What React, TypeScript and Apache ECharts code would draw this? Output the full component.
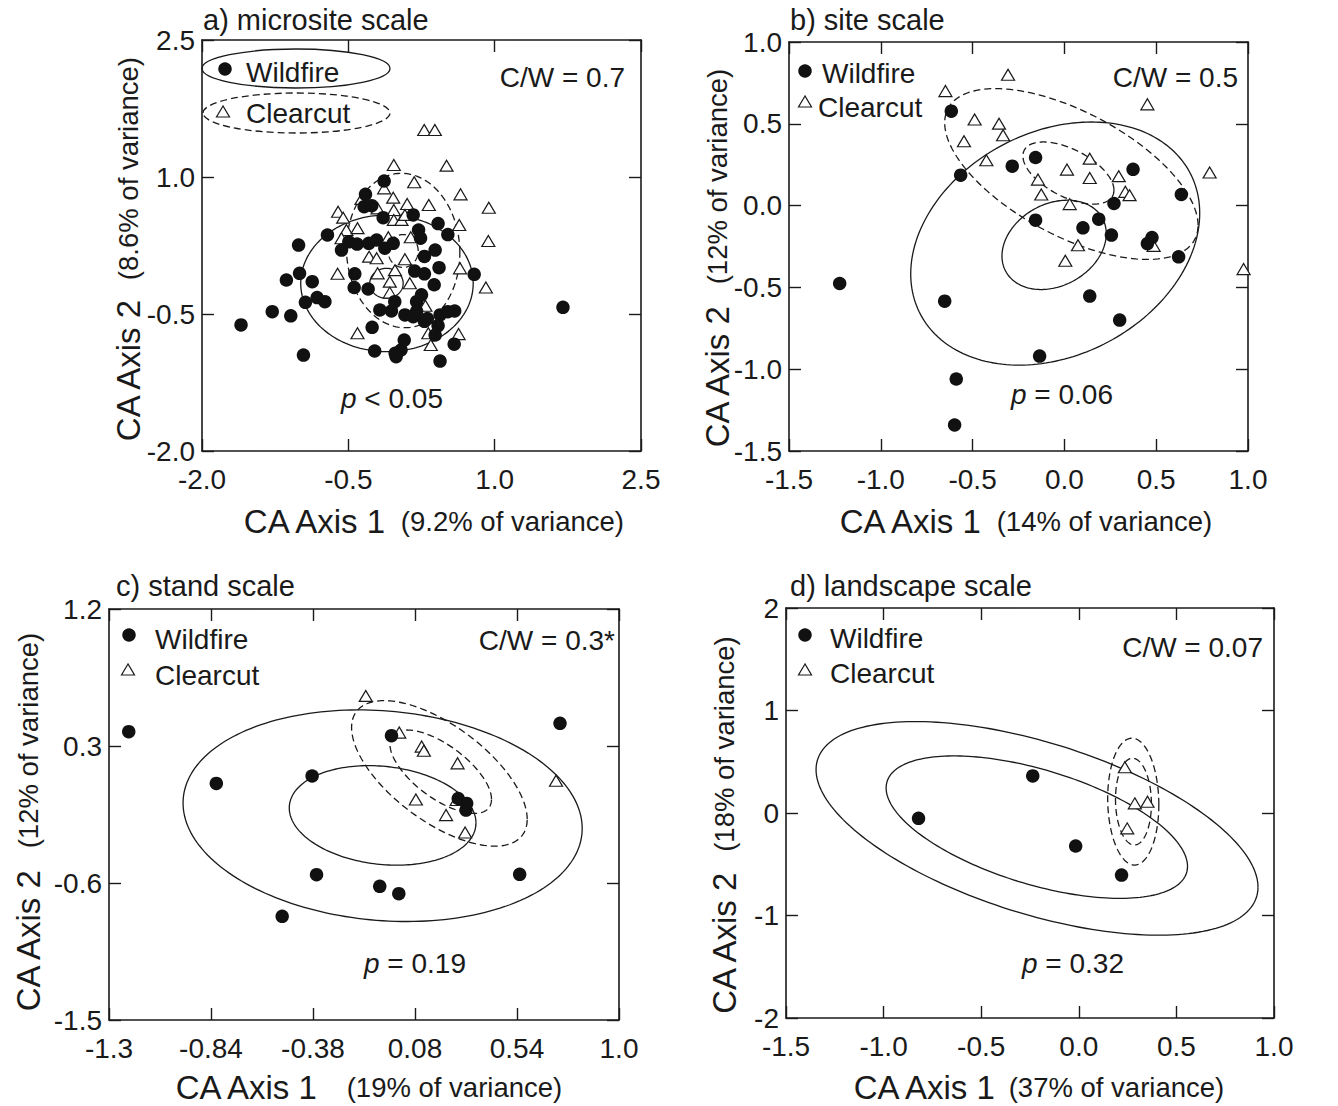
import React, { useEffect, useRef } from 'react';
import * as echarts from 'echarts';

const FONT = '"Liberation Sans", Arial, Helvetica, sans-serif';
const INK = '#1a1a1a';

// ---------- a) microsite scale ----------
const aXTickLabels = ['-2.0', '-0.5', '1.0', '2.5'];
const aYTickLabels = ['-2.0', '-0.5', '1.0', '2.5'];
const aWildfire = [
  [-1.6, -0.62], [-1.28, -0.475], [-1.09, -0.52], [-0.96, -0.95], [-1.135, -0.128], [-1.01, 0.255],
  [-1.0, -0.055], [-0.87, -0.146], [-0.94, -0.372], [-0.82, -0.32], [-0.74, -0.365], [-0.714, 0.365],
  [-0.57, 0.2], [-0.495, 0.29], [-0.41, 0.266], [-0.324, 0.81], [-0.338, 0.675], [-0.26, 0.686],
  [-0.133, 0.956], [-0.143, 0.555], [-0.29, 0.274], [-0.21, 0.31], [-0.126, 0.22], [-0.04, 0.274],
  [-0.434, -0.06], [-0.44, -0.21], [-0.297, -0.226], [-0.177, -0.456], [-0.058, -0.467], [-0.024, -0.365],
  [-0.256, -0.646], [-0.23, -0.905], [-0.01, -0.967], [0.04, -0.894], [0.073, -0.785], [0.08, -0.51],
  [0.165, -0.53], [0.2, -0.365], [0.25, -0.29], [0.28, -0.58], [0.18, -0.03], [0.28, -0.06],
  [0.28, 0.13], [0.24, 0.33], [0.22, 0.42], [0.165, 0.585], [0.42, 0.49], [0.52, 0.37],
  [0.39, 0.2], [0.43, 0.007], [0.38, -0.18], [0.44, -0.51], [0.52, -0.475], [0.59, -0.467],
  [0.42, -0.628], [0.39, -0.73], [0.585, -0.83], [0.44, -1.015], [0.79, -0.066], [1.7, -0.427],
  [-0.02, -0.93], [0.2, -0.47], [0.31, -0.55],
];
const aClearcut = [
  [0.278, 1.515], [0.387, 1.515], [-0.034, 1.131], [0.507, 1.124], [0.175, 0.942], [-0.133, 0.876],
  [-0.04, 0.774], [0.65, 0.81], [0.325, 0.693], [0.103, 0.704], [-0.034, 0.639], [-0.2, 0.657],
  [-0.365, 0.76], [-0.605, 0.62], [-0.553, 0.555], [-0.52, 0.42], [-0.57, 0.33], [-0.406, 0.44],
  [-0.034, 0.53], [0.045, 0.53], [0.08, 0.585], [0.637, 0.475], [0.94, 0.664], [0.935, 0.3],
  [0.14, 0.34], [-0.09, 0.34], [-0.287, 0.128], [-0.21, 0.11], [0.08, 0.1], [-0.022, -0.02],
  [-0.2, -0.055], [-0.61, -0.06], [-0.075, -0.146], [0.13, -0.164], [-0.075, -0.266], [0.645, 0.0],
  [0.91, -0.21], [0.29, -0.41], [-0.406, -0.71], [0.32, -0.71], [0.63, -0.72], [0.345, -0.84],
];
// ellipse: [centreX, centreY, halfWidth, halfHeight, tilt (-1..1)]
const aWildfireEllipses = [[-0.104, -0.164, 0.884, 0.748, 0.0], [-0.109, -0.164, 0.171, 0.164, 0.0]];
const aClearcutEllipses = [[0.062, 0.195, 0.581, 0.845, -0.03], [0.062, 0.19, 0.154, 0.18, 0.0]];

// ---------- b) site scale ----------
const bXTickLabels = ['-1.5', '-1.0', '-0.5', '0.0', '0.5', '1.0'];
const bYTickLabels = ['-1.5', '-1.0', '-0.5', '0.0', '0.5', '1.0'];
const bWildfire = [
  [-1.224, -0.476], [-0.652, -0.584], [-0.616, 0.577], [-0.565, 0.186], [-0.589, -1.06], [-0.598, -1.341],
  [-0.284, 0.241], [-0.157, 0.294], [-0.157, -0.089], [-0.135, -0.92], [0.101, -0.136], [0.187, -0.083],
  [0.256, -0.18], [0.138, -0.553], [0.301, -0.7], [0.27, 0.013], [0.374, 0.222], [0.452, -0.232],
  [0.477, -0.195], [0.637, 0.068], [0.622, -0.313],
];
const bClearcut = [
  [-0.307, 0.8], [-0.648, 0.7], [-0.489, 0.526], [-0.547, 0.393], [-0.356, 0.501], [-0.334, 0.43],
  [-0.425, 0.277], [-0.144, 0.159], [-0.126, 0.068], [0.014, 0.22], [0.138, 0.287], [0.138, 0.169],
  [0.029, 0.009], [0.296, 0.18], [0.332, 0.084], [0.355, 0.064], [0.452, 0.619], [0.791, 0.202],
  [0.074, -0.242], [0.005, -0.337], [0.486, -0.246], [0.976, -0.388],
];
const bWildfireEllipses = [[-0.05, -0.232, 0.787, 0.743, 0.25], [-0.056, -0.24, 0.284, 0.273, 0.25]];
const bClearcutEllipses = [[0.038, 0.193, 0.69, 0.522, -0.6], [0.022, 0.199, 0.248, 0.19, -0.55]];

// ---------- c) stand scale ----------
const cXTickLabels = ['-1.3', '-0.84', '-0.38', '0.08', '0.54', '1.0'];
const cYTickLabels = ['-1.5', '-0.6', '0.3', '1.2'];
const cWildfire = [
  [-1.211, 0.394], [-0.816, 0.054], [-0.384, 0.103], [-0.026, 0.368], [0.275, -0.045], [0.313, -0.077],
  [0.31, -0.121], [0.734, 0.449], [-0.364, -0.545], [-0.079, -0.622], [0.007, -0.67], [-0.519, -0.819],
  [0.552, -0.543],
];
const cClearcut = [
  [-0.142, 0.629], [0.009, 0.388], [0.11, 0.296], [0.12, 0.269], [0.272, 0.186], [0.084, -0.051],
  [0.22, -0.154], [0.268, -0.055], [0.306, -0.268], [0.716, 0.072],
];
const cWildfireEllipses = [[-0.066, -0.158, 0.9, 0.695, -0.12], [-0.066, -0.156, 0.421, 0.327, -0.15]];
const cClearcutEllipses = [[0.19, 0.12, 0.396, 0.478, -0.63], [0.196, 0.131, 0.229, 0.274, -0.66]];

// ---------- d) landscape scale ----------
const dXTickLabels = ['-1.5', '-1.0', '-0.5', '0.0', '0.5', '1.0'];
const dYTickLabels = ['-2', '-1', '0', '1', '2'];
const dWildfire = [[-0.821, -0.052], [-0.236, 0.362], [-0.016, -0.322], [0.219, -0.606]];
const dClearcut = [[0.236, 0.446], [0.287, 0.094], [0.352, 0.11], [0.248, -0.15]];
const dWildfireEllipses = [[-0.214, -0.15, 1.132, 1.042, -0.55], [-0.215, -0.138, 0.772, 0.695, -0.55]];
const dClearcutEllipses = [[0.279, 0.111, 0.131, 0.619, -0.05], [0.28, 0.111, 0.092, 0.423, -0.05]];

const panels = [
  {
    title: 'a) microsite scale', cw: 'C/W = 0.7', p: ' < 0.05',
    xTitle: ['CA Axis 1', '(9.2% of variance)'], yTitle: ['CA Axis 2', '(8.6% of variance)'],
    xTicks: aXTickLabels, yTicks: aYTickLabels, wild: aWildfire, clear: aClearcut,
    wildE: aWildfireEllipses, clearE: aClearcutEllipses,
    layout: {
      grid: { left: 202, top: 40, width: 439, height: 411 },
      titleXY: [203, 20], cwXY: [625, 77], pXY: [392, 398],
      legend: { circle: [225, 69], tri: [223, 112], wildText: [246, 72], clearText: [246, 113] },
      xTitleXY: [433, 521], xGap: 14, yTitleXY: [128, 250], yGap: 18,
    },
  },
  {
    title: 'b) site scale', cw: 'C/W = 0.5', p: ' = 0.06',
    xTitle: ['CA Axis 1', '(14% of variance)'], yTitle: ['CA Axis 2', '(12% of variance)'],
    xTicks: bXTickLabels, yTicks: bYTickLabels, wild: bWildfire, clear: bClearcut,
    wildE: bWildfireEllipses, clearE: bClearcutEllipses,
    layout: {
      grid: { left: 789, top: 42, width: 459, height: 409 },
      titleXY: [790, 20], cwXY: [1238, 77], pXY: [1062, 394],
      legend: { circle: [805, 71], tri: [805, 102], wildText: [822, 73], clearText: [818, 107] },
      xTitleXY: [1025, 521], xGap: 14, yTitleXY: [717, 259], yGap: 20,
    },
  },
  {
    title: 'c) stand scale', cw: 'C/W = 0.3*', p: ' = 0.19',
    xTitle: ['CA Axis 1', '(19% of variance)'], yTitle: ['CA Axis 2', '(12% of variance)'],
    xTicks: cXTickLabels, yTicks: cYTickLabels, wild: cWildfire, clear: cClearcut,
    wildE: cWildfireEllipses, clearE: cClearcutEllipses,
    layout: {
      grid: { left: 109, top: 609, width: 510, height: 411 },
      titleXY: [116, 586], cwXY: [615, 640], pXY: [415, 963],
      legend: { circle: [129, 635], tri: [128, 670], wildText: [155, 639], clearText: [155, 675] },
      xTitleXY: [368, 1087], xGap: 28, yTitleXY: [28, 823], yGap: 20,
    },
  },
  {
    title: 'd) landscape scale', cw: 'C/W = 0.07', p: ' = 0.32',
    xTitle: ['CA Axis 1', '(37% of variance)'], yTitle: ['CA Axis 2', '(18% of variance)'],
    xTicks: dXTickLabels, yTicks: dYTickLabels, wild: dWildfire, clear: dClearcut,
    wildE: dWildfireEllipses, clearE: dClearcutEllipses,
    layout: {
      grid: { left: 786, top: 608, width: 488, height: 410 },
      titleXY: [790, 586], cwXY: [1263, 647], pXY: [1073, 963],
      legend: { circle: [805, 635], tri: [805, 670], wildText: [830, 638], clearText: [830, 673] },
      xTitleXY: [1038, 1087], xGap: 12, yTitleXY: [724, 826], yGap: 19,
    },
  },
];

function labelFor(labels: string[], v: number) {
  for (const l of labels) if (Math.abs(Number(l) - v) < 1e-6) return l;
  return '';
}

function axis(gridIndex: number, labels: string[], position: string, showLabels: boolean, isX: boolean) {
  const values = labels.map(Number);
  return {
    type: 'value',
    gridIndex,
    position,
    min: values[0],
    max: values[values.length - 1],
    axisLine: { show: true, onZero: false, lineStyle: { color: INK, width: 1.6 } },
    axisTick: { show: true, inside: true, length: 12, customValues: values, lineStyle: { color: INK, width: 1.4 } },
    axisLabel: {
      show: showLabels,
      customValues: values,
      formatter: (v: number) => labelFor(labels, v),
      fontSize: 28,
      fontFamily: FONT,
      color: INK,
      margin: isX ? 14 : 7,
    },
    splitLine: { show: false },
  };
}

function ellipseSeries(i: number, data: number[][], dashed: boolean) {
  return {
    type: 'custom',
    xAxisIndex: i * 2,
    yAxisIndex: i * 2,
    data,
    silent: true,
    encode: { x: 0, y: 1 },
    z: 2,
    renderItem: (_params: any, api: any) => {
      const cx = api.value(0);
      const cy = api.value(1);
      const w = api.value(2);
      const h = api.value(3);
      const d = Math.acos(api.value(4));
      const pts: number[][] = [];
      for (let s = 0; s <= 200; s++) {
        const t = (s / 200) * Math.PI * 2;
        pts.push(api.coord([cx + w * Math.cos(t), cy + h * Math.cos(t - d)]));
      }
      return {
        type: 'polyline',
        shape: { points: pts },
        style: { fill: 'none', stroke: INK, lineWidth: 1.3, lineDash: dashed ? [7, 4] : null },
      };
    },
  };
}

function buildOption() {
  const grid: any[] = [];
  const xAxis: any[] = [];
  const yAxis: any[] = [];
  const series: any[] = [];
  const graphic: any[] = [];

  panels.forEach((p, i) => {
    const L = p.layout;
    grid.push({ ...L.grid, containLabel: false });
    xAxis.push(axis(i, p.xTicks, 'bottom', true, true));
    xAxis.push(axis(i, p.xTicks, 'top', false, true));
    yAxis.push(axis(i, p.yTicks, 'left', true, false));
    yAxis.push(axis(i, p.yTicks, 'right', false, false));

    series.push(ellipseSeries(i, p.wildE, false));
    series.push(ellipseSeries(i, p.clearE, true));
    series.push({
      type: 'scatter', name: 'Clearcut', xAxisIndex: i * 2, yAxisIndex: i * 2, data: p.clear,
      symbol: 'triangle', symbolSize: [13, 11], silent: true, z: 3,
      itemStyle: { color: '#ffffff', borderColor: INK, borderWidth: 1.2, opacity: 1 },
    });
    series.push({
      type: 'scatter', name: 'Wildfire', xAxisIndex: i * 2, yAxisIndex: i * 2, data: p.wild,
      symbol: 'circle', symbolSize: 13.5, silent: true, z: 4,
      itemStyle: { color: '#111111', opacity: 1 },
    });

    const txt = (x: number, y: number, text: string, align: string, size = 28, extra: any = {}) => ({
      type: 'text', x, y, z: 10, silent: true,
      style: { text, fontSize: size, fontFamily: FONT, fill: INK, align, verticalAlign: 'middle', ...extra },
    });

    graphic.push(txt(L.titleXY[0], L.titleXY[1], p.title, 'left', 29));
    graphic.push(txt(L.cwXY[0], L.cwXY[1], p.cw, 'right', 28));
    graphic.push(txt(L.pXY[0], L.pXY[1], '{i|p}' + p.p, 'center', 28, {
      rich: { i: { fontStyle: 'italic', fontSize: 28, fontFamily: FONT, fill: INK } },
    }));
    // legend
    graphic.push({ type: 'circle', z: 10, silent: true, shape: { cx: L.legend.circle[0], cy: L.legend.circle[1], r: 6.75 }, style: { fill: '#111' } });
    const [tx, ty] = L.legend.tri;
    graphic.push({
      type: 'polygon', z: 10, silent: true,
      shape: { points: [[tx, ty - 6], [tx - 6.5, ty + 5], [tx + 6.5, ty + 5]] },
      style: { fill: '#fff', stroke: INK, lineWidth: 1.2 },
    });
    graphic.push(txt(L.legend.wildText[0], L.legend.wildText[1], 'Wildfire', 'left', 28));
    graphic.push(txt(L.legend.clearText[0], L.legend.clearText[1], 'Clearcut', 'left', 28));

    // axis titles
    const rich = (gap: number) => ({
      a: { fontSize: 33, fontFamily: FONT, fill: INK },
      g: { width: gap, fontSize: 27 },
      b: { fontSize: 27.5, fontFamily: FONT, fill: INK },
    });
    graphic.push({
      type: 'text', x: L.xTitleXY[0], y: L.xTitleXY[1], z: 10, silent: true,
      style: { text: `{a|${p.xTitle[0]}}{g| }{b|${p.xTitle[1]}}`, rich: rich(L.xGap), align: 'center', verticalAlign: 'middle', fontFamily: FONT },
    });
    graphic.push({
      type: 'text', x: L.yTitleXY[0], y: L.yTitleXY[1], rotation: Math.PI / 2, z: 10, silent: true,
      style: { text: `{a|${p.yTitle[0]}}{g| }{b|${p.yTitle[1]}}`, rich: rich(L.yGap), align: 'center', verticalAlign: 'middle', fontFamily: FONT },
    });
  });

  // legend ellipses of panel a
  graphic.push({ type: 'ellipse', z: 9, silent: true, shape: { cx: 296, cy: 68.5, rx: 94, ry: 19.5 }, style: { fill: 'none', stroke: INK, lineWidth: 1.3 } });
  graphic.push({ type: 'ellipse', z: 9, silent: true, shape: { cx: 296.5, cy: 113, rx: 93.5, ry: 20 }, style: { fill: 'none', stroke: INK, lineWidth: 1.3, lineDash: [7, 4] } });

  return {
    animation: false,
    backgroundColor: '#ffffff',
    grid, xAxis, yAxis, series, graphic,
  };
}

export default function App() {
  const ref = useRef<HTMLDivElement>(null);
  useEffect(() => {
    if (!ref.current) return;
    const chart = echarts.init(ref.current, undefined, { renderer: 'svg' });
    chart.setOption(buildOption() as any);
    return () => chart.dispose();
  }, []);
  return <div ref={ref} style={{ position: 'absolute', left: 0, top: 0, width: 1338, height: 1106, background: '#fff' }} />;
}
